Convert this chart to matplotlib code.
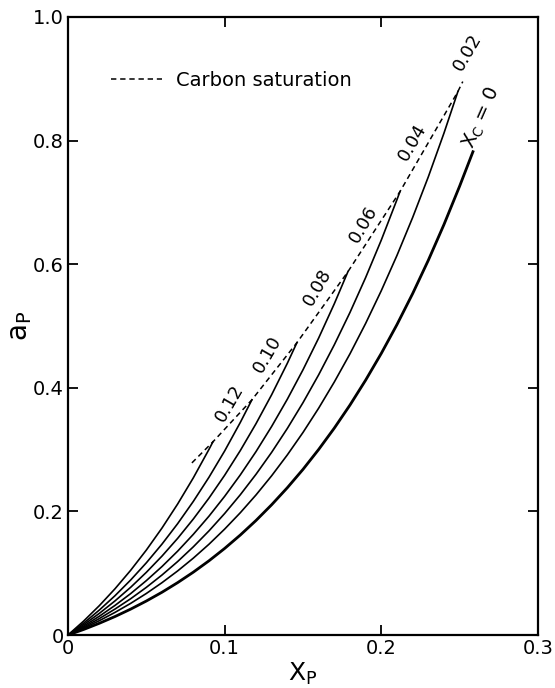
import numpy as np
import matplotlib
matplotlib.use("Agg")
import matplotlib.pyplot as plt

# values
xc_labels = ["0.12", "0.10", "0.08", "0.06", "0.04", "0.02"]

x_012 = [0, 0.01, 0.02, 0.03, 0.04, 0.05, 0.06, 0.07, 0.08, 0.09, 0.0925]
a_012 = [0, 0.0226, 0.0475, 0.0748, 0.1047, 0.1374, 0.1731, 0.2120, 0.2543,
         0.3004, 0.3125]

x_010 = [0, 0.01, 0.02, 0.03, 0.04, 0.05, 0.06, 0.07, 0.08, 0.09, 0.10, 0.11,
         0.1174]
a_010 = [0, 0.0192, 0.0404, 0.0636, 0.0890, 0.1168, 0.1471, 0.1802, 0.2162,
         0.2553, 0.2978, 0.3440, 0.3806]

x_008 = [0, 0.01, 0.02, 0.03, 0.04, 0.05, 0.06, 0.07, 0.08, 0.09, 0.10, 0.11,
         0.12, 0.13, 0.14, 0.1461]
a_008 = [0, 0.0167, 0.0350, 0.0552, 0.0772, 0.1014, 0.1277, 0.1564, 0.1877,
         0.2216, 0.2585, 0.2985, 0.3419, 0.3888, 0.4396, 0.4729]

x_006 = [0, 0.01, 0.02, 0.03, 0.04, 0.05, 0.06, 0.07, 0.08, 0.09, 0.10, 0.11,
         0.12, 0.13, 0.14, 0.15, 0.16, 0.17, 0.1787]
a_006 = [0, 0.0145, 0.0304, 0.0479, 0.0670, 0.0880, 0.1108, 0.1357, 0.1629,
         0.1923, 0.2244, 0.2591, 0.2967, 0.3375, 0.3815, 0.4291, 0.4805,
         0.5360, 0.5879]

x_004 = [0, 0.01, 0.02, 0.03, 0.04, 0.05, 0.06, 0.07, 0.08, 0.09, 0.10, 0.11,
         0.12, 0.13, 0.14, 0.15, 0.16, 0.17, 0.18, 0.19, 0.20, 0.21, 0.2119]
a_004 = [0, 0.0127, 0.0266, 0.0420, 0.0587, 0.0771, 0.0971, 0.1189, 0.1427,
         0.1685, 0.1966, 0.2270, 0.2600, 0.2956, 0.3342, 0.3759, 0.4210,
         0.4696, 0.5219, 0.5784, 0.6391, 0.7045, 0.7174]

x_002 = [0, 0.01, 0.02, 0.03, 0.04, 0.05, 0.06, 0.07, 0.08, 0.09, 0.10, 0.11,
         0.12, 0.13, 0.14, 0.15, 0.16, 0.17, 0.18, 0.19, 0.20, 0.21, 0.22,
         0.23, 0.24, 0.2489]
a_002 = [0, 0.0111, 0.0232, 0.0366, 0.0512, 0.0672, 0.0847, 0.1037, 0.1244,
         0.1469, 0.1714, 0.1979, 0.2266, 0.2577, 0.2914, 0.3277, 0.3670,
         0.4094, 0.4550, 0.5042, 0.5572, 0.6142, 0.6755, 0.7413, 0.8121,
         0.8794]

x_000 = [0, 0.01, 0.02, 0.03, 0.04, 0.05, 0.06, 0.07, 0.08, 0.09, 0.10, 0.11,
         0.12, 0.13, 0.14, 0.15, 0.16, 0.17, 0.18, 0.19, 0.20, 0.21, 0.22,
         0.23, 0.24, 0.25, 0.2585]
a_000 = [0, 0.0090, 0.0190, 0.0299, 0.0419, 0.0550, 0.0692, 0.0848, 0.1017,
         0.1201, 0.1401, 0.1618, 0.1853, 0.2108, 0.2383, 0.2680, 0.3002,
         0.3348, 0.3721, 0.4124, 0.4557, 0.5023, 0.5524, 0.6063, 0.6642,
         0.7263, 0.7820]

# carbon saturation line
x_sat = [0.0791, 0.0925, 0.1174, 0.1461, 0.1787, 0.2119, 0.2489, 0.2520]
a_sat = [0.2785, 0.3125, 0.3806, 0.4729, 0.5879, 0.7174, 0.8794, 0.8955]

fig = plt.figure(figsize=(5.55, 6.88), dpi=100)
ax = fig.add_axes([0.1225, 0.077, 0.8468, 0.8983])

curves = [(x_012, a_012), (x_010, a_010), (x_008, a_008), (x_006, a_006),
          (x_004, a_004), (x_002, a_002)]
for xs, ys in curves:
    ax.plot(xs, ys, color="black", lw=1.2)
ax.plot(x_000, a_000, color="black", lw=2.0)

ax.plot(x_sat, a_sat, color="black", lw=1.1, ls=(0, (3.5, 2.5)),
        label="Carbon saturation")

# curve labels
label_pos = [(0.1034, 0.3757), (0.1276, 0.4534), (0.1595, 0.5619),
             (0.1883, 0.664), (0.2202, 0.7968), (0.2553, 0.9425)]
for txt, (lx, ly) in zip(xc_labels, label_pos):
    ax.text(lx, ly, txt, rotation=60, ha="center", va="center", fontsize=13)
ax.text(0.2640, 0.8372, r"$\mathregular{X_C}$ = 0", rotation=66,
        ha="center", va="center", fontsize=14)

ax.set_xlim(0, 0.3)
ax.set_ylim(0, 1.0)
ax.set_xticks([0, 0.1, 0.2, 0.3])
ax.set_xticklabels(["0", "0.1", "0.2", "0.3"])
ax.set_yticks([0, 0.2, 0.4, 0.6, 0.8, 1.0])
ax.set_yticklabels(["0", "0.2", "0.4", "0.6", "0.8", "1.0"])
ax.tick_params(direction="in", length=7, width=1.3, labelsize=14,
               top=True, right=True, pad=3)
for sp in ax.spines.values():
    sp.set_linewidth(1.6)

ax.set_xlabel(r"$\mathregular{X_P}$", fontsize=18, labelpad=2)
ax.set_ylabel(r"$\mathregular{a_P}$", fontsize=20)
ax.yaxis.set_label_coords(-0.072, 0.5)

ax.legend(loc="center left", bbox_to_anchor=(0.055, 0.898), frameon=False,
          fontsize=14, handlelength=2.6, handletextpad=0.7)

fig.savefig("out.png", dpi=100)
